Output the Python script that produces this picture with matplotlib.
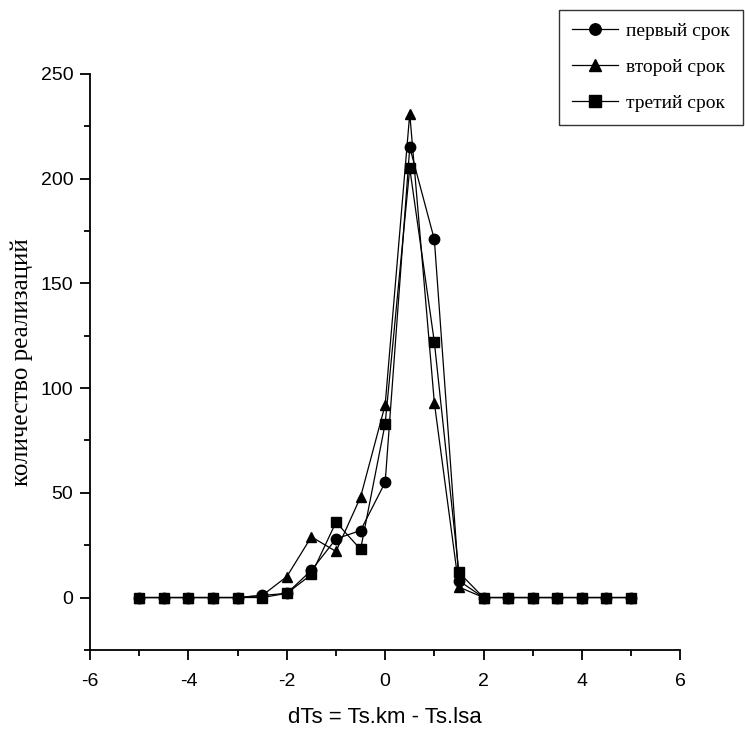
import matplotlib
matplotlib.use("Agg")
import matplotlib.pyplot as plt
from matplotlib.ticker import MultipleLocator

plt.rcParams["axes.unicode_minus"] = False

# data
dts = [-5, -4.5, -4, -3.5, -3, -2.5, -2, -1.5, -1, -0.5, 0, 0.5, 1, 1.5,
       2, 2.5, 3, 3.5, 4, 4.5, 5]
first = [0, 0, 0, 0, 0, 1, 2, 13, 28, 32, 55, 215, 171, 8,
         0, 0, 0, 0, 0, 0, 0]
second = [0, 0, 0, 0, 0, 1, 10, 29, 22, 48, 92, 231, 93, 5,
          0, 0, 0, 0, 0, 0, 0]
third = [0, 0, 0, 0, 0, 0, 2, 11, 36, 23, 83, 205, 122, 12,
         0, 0, 0, 0, 0, 0, 0]
labels = ["первый срок", "второй срок", "третий срок"]
markers = ["o", "^", "s"]

fig = plt.figure(figsize=(7.45, 7.36), dpi=100)
ax = fig.add_axes([0.121, 0.117, 0.792, 0.7825])

for ys, lab, m in zip([first, second, third], labels, markers):
    ax.plot(dts, ys, color="black", lw=0.9, marker=m, ms=7.5,
            markerfacecolor="black", markeredgecolor="black", label=lab)

ax.set_xlim(-6, 6)
ax.set_ylim(-25, 250)
ax.xaxis.set_major_locator(MultipleLocator(2))
ax.xaxis.set_minor_locator(MultipleLocator(1))
ax.yaxis.set_major_locator(MultipleLocator(50))
ax.yaxis.set_minor_locator(MultipleLocator(25))
ax.spines["top"].set_visible(False)
ax.spines["right"].set_visible(False)
for s in ["left", "bottom"]:
    ax.spines[s].set_linewidth(1.3)
ax.tick_params(which="major", direction="out", length=7, width=1.3,
               labelsize=14, pad=5, labelfontfamily="Liberation Sans")
ax.tick_params(axis="x", which="major", pad=10)
ax.tick_params(which="minor", direction="out", length=4, width=1.3)

ax.set_xlabel("dTs = Ts.km - Ts.lsa", family="Liberation Sans", fontsize=16,
              labelpad=12)
ax.set_ylabel("количество реализаций", family="Liberation Serif", fontsize=18,
              labelpad=6)

leg = ax.legend(loc="upper right", bbox_to_anchor=(0.997, 0.987),
                bbox_transform=fig.transFigure, frameon=True, fancybox=False,
                edgecolor="black", handlelength=2.4, handletextpad=0.4,
                borderpad=0.65, labelspacing=0.95, borderaxespad=0,
                markerscale=1.1,
                prop={"family": "Liberation Serif", "size": 14})
leg.get_frame().set_linewidth(1.0)

fig.savefig("out.png", dpi=100)
